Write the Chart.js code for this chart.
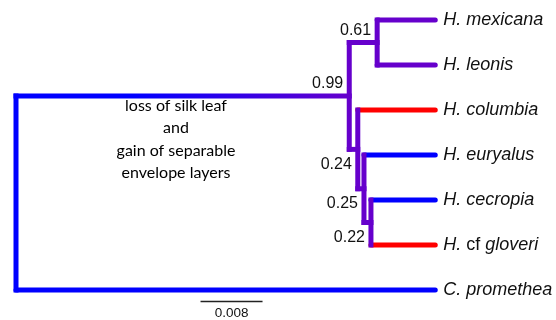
<!DOCTYPE html>
<html>
<head>
<meta charset="utf-8">
<script src="https://cdn.jsdelivr.net/npm/chart.js@4/dist/chart.umd.min.js"></script>
<style>
  html, body { margin: 0; padding: 0; background: #fff; }
  #wrap { width: 556px; height: 320px; position: relative; }
</style>
</head>
<body>
<div id="wrap"><canvas id="arvore"></canvas></div>
<script>
// tips, top to bottom
const tipGenus = ['H.', 'H.', 'H.', 'H.', 'H.', 'H.', 'C.'];
const tipQualifier = ['', '', '', '', '', 'cf', ''];
const tipEpithet = ['mexicana', 'leonis', 'columbia', 'euryalus', 'cecropia', 'gloveri', 'promethea'];
const tipDepth = 0.0541;

// internal nodes: depth (branch length from root), children, support
const nodeNames = ['root', 'A', 'B', 'C', 'D', 'E'];
const nodeDepth = [0, 0.0430, 0.0466, 0.0441, 0.0449, 0.0458];
const nodeChildren = [['A', 6], ['B', 'C'], [0, 1], [2, 'D'], [3, 'E'], [4, 5]];
const nodeSupport = ['', '0.99', '0.61', '0.24', '0.25', '0.22'];

const scaleBarLength = 0.008;
const scaleBarLabel = '0.008';
const noteLines = ['loss of silk leaf', 'and', 'gain of separable', 'envelope layers'];

const AZUL = '#0000ff';
const ROXO = '#6600cc';
const VERMELHO = '#ff0000';

// colour of the branch leading to each tip / node
const tipColors = [ROXO, ROXO, VERMELHO, AZUL, AZUL, VERMELHO, AZUL];
const nodeColors = { root: AZUL, A: 'gradient', B: ROXO, C: ROXO, D: ROXO, E: ROXO };
const nodeVertColors = { root: AZUL, A: ROXO, B: ROXO, C: ROXO, D: ROXO, E: ROXO };

function posY(ref) {
  if (typeof ref === 'number') return ref;
  const i = nodeNames.indexOf(ref);
  const ys = nodeChildren[i].map(posY);
  return (Math.min(...ys) + Math.max(...ys)) / 2;
}
function posX(ref) {
  if (typeof ref === 'number') return tipDepth;
  return nodeDepth[nodeNames.indexOf(ref)];
}

function gradiente(context) {
  const chart = context.chart;
  const { ctx, chartArea } = chart;
  if (!chartArea) return ROXO;
  const xs = chart.scales.x;
  const g = ctx.createLinearGradient(xs.getPixelForValue(0), 0, xs.getPixelForValue(nodeDepth[1]), 0);
  g.addColorStop(0, AZUL);
  g.addColorStop(0.35, AZUL);
  g.addColorStop(1, ROXO);
  return g;
}

const datasets = [];
nodeNames.forEach((nome, i) => {
  const x = nodeDepth[i];
  const ys = nodeChildren[i].map(posY);
  datasets.push({
    data: [{ x: x, y: Math.min(...ys) }, { x: x, y: Math.max(...ys) }],
    borderColor: nodeVertColors[nome]
  });
  nodeChildren[i].forEach((filho) => {
    let cor = typeof filho === 'number' ? tipColors[filho] : nodeColors[filho];
    if (cor === 'gradient') cor = gradiente;
    datasets.push({
      data: [{ x: x, y: posY(filho) }, { x: posX(filho), y: posY(filho) }],
      borderColor: cor,
      borderCapStyle: typeof filho === 'number' ? 'round' : 'square'
    });
  });
});
// scale bar
datasets.push({
  data: [{ x: 0.02381, y: 6.255 }, { x: 0.02381 + scaleBarLength, y: 6.255 }],
  borderColor: '#222',
  borderWidth: 1.5,
  borderCapStyle: 'butt'
});

const textos = {
  id: 'textos',
  afterDatasetsDraw(chart) {
    const { ctx } = chart;
    const xs = chart.scales.x, ys = chart.scales.y;
    ctx.save();
    ctx.fillStyle = '#111';
    ctx.textBaseline = 'middle';
    // tip labels
    const fonteIt = 'italic 18px "Liberation Sans", Arial, sans-serif';
    const fonteReto = '18px "Liberation Sans", Arial, sans-serif';
    tipEpithet.forEach((ep, i) => {
      let px = xs.getPixelForValue(tipDepth) + 8;
      const py = ys.getPixelForValue(i);
      ctx.textAlign = 'left';
      ctx.font = fonteIt;
      ctx.fillText(tipGenus[i] + ' ', px, py);
      px += ctx.measureText(tipGenus[i] + ' ').width;
      if (tipQualifier[i]) {
        ctx.font = fonteReto;
        ctx.fillText(tipQualifier[i] + ' ', px, py);
        px += ctx.measureText(tipQualifier[i] + ' ').width;
        ctx.font = fonteIt;
      }
      ctx.fillText(ep, px, py);
    });
    // support values
    ctx.font = '16px "Liberation Sans", Arial, sans-serif';
    ctx.textAlign = 'right';
    nodeNames.forEach((nome, i) => {
      if (!nodeSupport[i]) return;
      const nx = xs.getPixelForValue(nodeDepth[i]);
      const ny = ys.getPixelForValue(posY(nome));
      if (nome === 'A' || nome === 'B') {
        ctx.fillText(nodeSupport[i], nx - 6, ny - 12);
      } else {
        ctx.fillText(nodeSupport[i], nx - 6, ny + 15);
      }
    });
    // scale bar label
    ctx.font = '13.5px "Liberation Sans", Arial, sans-serif';
    ctx.textAlign = 'center';
    ctx.fillText(scaleBarLabel, xs.getPixelForValue(0.02381 + scaleBarLength / 2), ys.getPixelForValue(6.255) + 12);
    // annotation
    ctx.font = '16px Lato, "Open Sans", sans-serif';
    ctx.fillStyle = '#000';
    noteLines.forEach((t, k) => {
      ctx.fillText(t, 176, 106 + k * 22.3);
    });
    ctx.restore();
  }
};

new Chart(document.getElementById('arvore'), {
  type: 'line',
  data: { datasets: datasets },
  options: {
    responsive: true,
    maintainAspectRatio: false,
    animation: false,
    layout: { padding: 0 },
    elements: {
      line: { borderWidth: 5, tension: 0, borderCapStyle: 'square', fill: false },
      point: { radius: 0, hoverRadius: 0 }
    },
    scales: {
      x: { type: 'linear', display: false, min: -0.002065, max: 0.069677 },
      y: { type: 'linear', display: false, reverse: true, min: -0.4444, max: 6.6667 }
    },
    plugins: {
      legend: { display: false },
      tooltip: { enabled: false }
    }
  },
  plugins: [textos]
});
</script>
</body>
</html>
